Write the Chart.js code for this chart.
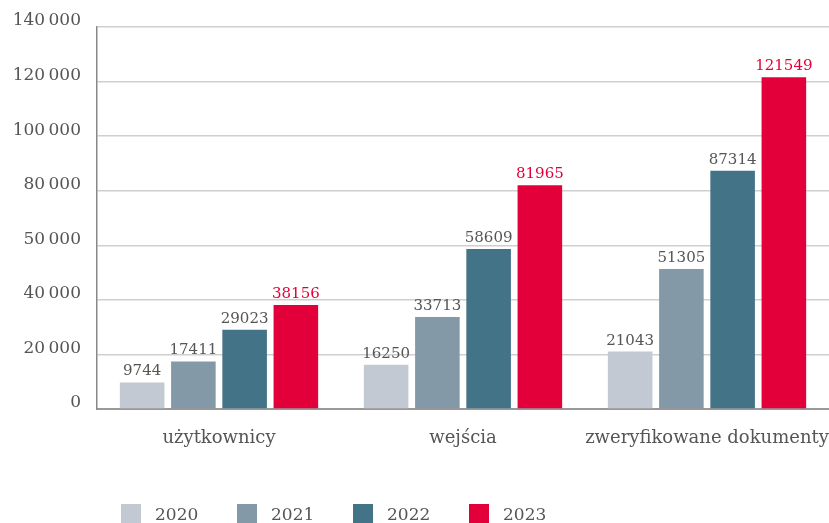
<!DOCTYPE html>
<html lang="pl">
<head>
<meta charset="UTF-8">
<title>Wykres</title>
<script src="https://cdn.jsdelivr.net/npm/chart.js"></script>
<style>
  html, body { margin: 0; padding: 0; background: #fff; }
  #wrap { position: relative; width: 829px; height: 523px; }
  #legend { position: absolute; left: 121px; top: 504px; display: flex; font-family: "DejaVu Serif", serif; font-size: 17px; color: #555; }
  #legend .item { display: flex; align-items: center; width: 116px; height: 20px; }
  #legend .box { width: 20px; height: 20px; margin-right: 14px; }
</style>
</head>
<body>
<div id="wrap">
  <canvas id="myChart" width="829" height="523"></canvas>
  <div id="legend"></div>
</div>
<script>
// dane
const categories = ['użytkownicy', 'wejścia', 'zweryfikowane dokumenty'];
const years = ['2020', '2021', '2022', '2023'];
const v2020 = [9744, 16250, 21043];
const v2021 = [17411, 33713, 51305];
const v2022 = [29023, 58609, 87314];
const v2023 = [38156, 81965, 121549];
// etykiety osi Y tak jak w oryginale (z "50 000" zamiast 60 000)
const tickLabels = ['0', '20\u2009000', '40\u2009000', '50\u2009000', '80\u2009000', '100\u2009000', '120\u2009000', '140\u2009000'];

const colors = ['#c2c9d2', '#8499a7', '#437386', '#e3003a'];
const labelColors = ['#555', '#555', '#555', '#e3003a'];
const series = [v2020, v2021, v2022, v2023];

const FONT = '"DejaVu Serif", serif';

// wartości nad słupkami
const valueLabels = {
  id: 'valueLabels',
  afterDatasetsDraw(chart) {
    const ctx = chart.ctx;
    ctx.save();
    ctx.font = '15px ' + FONT;
    ctx.textAlign = 'center';
    ctx.textBaseline = 'alphabetic';
    chart.data.datasets.forEach((ds, i) => {
      chart.getDatasetMeta(i).data.forEach((bar, j) => {
        ctx.fillStyle = labelColors[i];
        ctx.fillText(String(ds.data[j]), bar.x, bar.y - 7);
      });
    });
    ctx.restore();
  }
};

const config = {
  type: 'bar',
  data: {
    labels: categories,
    datasets: series.map((d, i) => ({
      label: years[i],
      data: d,
      backgroundColor: colors[i],
      categoryPercentage: 0.84,
      barPercentage: 0.87
    }))
  },
  options: {
    responsive: false,
    animation: false,
    layout: { padding: { top: 27, right: 0, left: 0, bottom: 0 } },
    plugins: {
      legend: { display: false },
      tooltip: { enabled: false }
    },
    scales: {
      x: {
        grid: { display: false },
        border: { color: '#999', width: 2 },
        ticks: { color: '#555', font: { family: FONT, size: 18 }, padding: 11, maxRotation: 0, autoSkip: false },
        afterFit(s) { s.height = 114; s.paddingLeft = 0; s.paddingRight = 0; }
      },
      y: {
        min: 0,
        max: 140000,
        grid: { color: '#cfcfcf', lineWidth: 1.5, drawTicks: false },
        border: { color: '#888', width: 1.5 },
        ticks: {
          stepSize: 20000,
          color: '#555',
          font: { family: FONT, size: 17 },
          padding: 16,
          labelOffset: -6,
          callback: (value, index) => tickLabels[index]
        },
        afterFit(s) { s.width = 97; }
      }
    }
  },
  plugins: [valueLabels]
};

const ctx = document.getElementById('myChart').getContext('2d');
new Chart(ctx, config);

// legenda pod wykresem
const legend = document.getElementById('legend');
years.forEach((y, i) => {
  const item = document.createElement('div');
  item.className = 'item';
  item.innerHTML = '<span class="box" style="background:' + colors[i] + '"></span><span>' + y + '</span>';
  legend.appendChild(item);
});
</script>
</body>
</html>
